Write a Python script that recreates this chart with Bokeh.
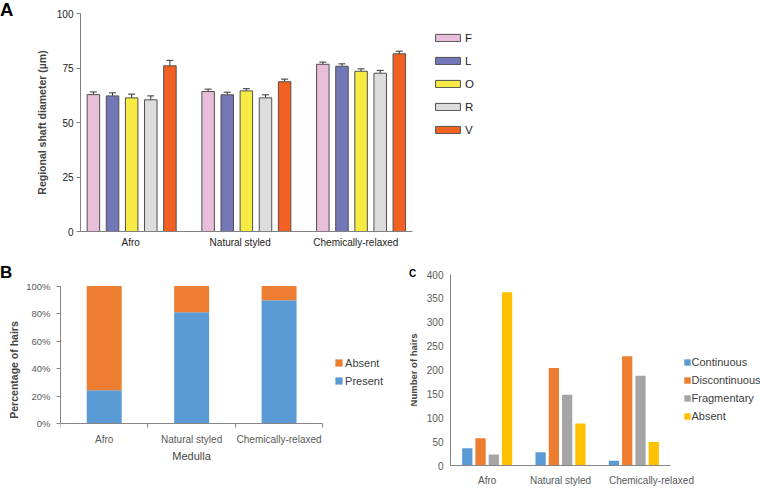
import numpy as np
from bokeh.plotting import figure
from bokeh.models import (Range1d, FixedTicker, Legend, LegendItem, Whisker, Div,
                          TeeHead, ColumnDataSource, NumeralTickFormatter)
from bokeh.layouts import column, row
from bokeh.embed import file_html
from bokeh.resources import INLINE

FONT = "Liberation Sans"

groups = ["Afro", "Natural styled", "Chemically-relaxed"]

# ---- Panel A: regional shaft diameter (mean, SEM) ----
regions = ["F", "L", "O", "R", "V"]
a_mean_F = [62.8, 64.2, 76.7]
a_mean_L = [62.2, 62.7, 75.8]
a_mean_O = [61.3, 64.5, 73.5]
a_mean_R = [60.4, 61.3, 72.6]
a_mean_V = [76.0, 68.7, 81.5]
a_err_F = [1.2, 1.1, 1.0]
a_err_L = [1.4, 1.2, 1.1]
a_err_O = [1.7, 1.0, 1.1]
a_err_R = [1.8, 1.4, 1.3]
a_err_V = [2.5, 1.2, 1.2]
a_colors = ["#E8BDDA", "#7377B7", "#F6EB43", "#DDDDDD", "#F26122"]
a_yticks = [0, 25, 50, 75, 100]

# ---- Panel B: medulla present/absent (% of hairs) ----
b_series = ["Present", "Absent"]
b_present = [0.244, 0.811, 0.897]
b_absent = [0.756, 0.189, 0.103]
b_colors = ["#5B9BD5", "#ED7D31"]
b_yticks = [0, 0.2, 0.4, 0.6, 0.8, 1.0]

# ---- Panel C: medulla type (number of hairs) ----
c_series = ["Continuous", "Discontinuous", "Fragmentary", "Absent"]
c_continuous = [36, 28, 10]
c_discontinuous = [57, 204, 229]
c_fragmentary = [23, 148, 188]
c_absent = [363, 88, 49]
c_colors = ["#5B9BD5", "#ED7D31", "#A5A5A5", "#FFC000"]
c_yticks = [0, 50, 100, 150, 200, 250, 300, 350, 400]

TICK_COL = "#595959"


def base_fig(**kw):
    p = figure(output_backend="svg", toolbar_location=None, **kw)
    p.xgrid.visible = False
    p.ygrid.visible = False
    p.outline_line_color = None
    p.background_fill_color = "white"
    p.border_fill_color = "white"
    for ax in (p.xaxis, p.yaxis):
        ax.major_label_text_font = FONT
        ax.axis_label_text_font = FONT
        ax.minor_tick_line_color = None
    return p


def letter(t, left, top, size):
    st = {"position": "absolute", "left": f"{left}px", "top": f"{top}px",
          "font-family": FONT, "font-size": size, "font-weight": "bold",
          "line-height": "1", "color": "black", "margin": "0", "padding": "0"}
    return Div(text=t, styles=st)


# ================= Panel A =================
# frame spans x 80..760; axis is bounded to the three groups
figA = base_fig(width=760, height=263,
                x_range=Range1d(-0.446, 5.482), y_range=Range1d(0, 100),
                min_border_left=80, min_border_right=0,
                min_border_top=13, min_border_bottom=32)
a_means = [a_mean_F, a_mean_L, a_mean_O, a_mean_R, a_mean_V]
a_errs = [a_err_F, a_err_L, a_err_O, a_err_R, a_err_V]
a_items = []
gx = np.arange(len(groups))
for i, reg in enumerate(regions):
    xs = gx + (i - 2) * 0.1667
    m = np.array(a_means[i])
    e = np.array(a_errs[i])
    src = ColumnDataSource(dict(x=xs, top=m, upper=m + e))
    r = figA.vbar(x="x", top="top", width=0.109, source=src,
                  fill_color=a_colors[i], line_color="#505050", line_width=1)
    w = Whisker(base="x", lower="top", upper="upper", source=src,
                line_color="#333333", line_width=1,
                upper_head=TeeHead(size=7, line_color="#333333", line_width=1),
                lower_head=None)
    figA.add_layout(w)
    a_items.append(LegendItem(label=reg, renderers=[r]))

a_label_pos = [-0.008, 0.946, 1.954]
figA.yaxis.ticker = FixedTicker(ticks=a_yticks)
figA.yaxis.major_tick_out = 4
figA.yaxis.major_tick_in = 0
figA.yaxis.major_label_standoff = 3
figA.yaxis.axis_label = "Regional shaft diameter (µm)"
figA.yaxis.axis_label_text_font_style = "bold"
figA.yaxis.axis_label_text_font_size = "10.5px"
figA.yaxis.axis_label_standoff = 6
figA.xaxis.bounds = (-0.446, 2.448)
figA.xaxis.ticker = FixedTicker(ticks=a_label_pos)
figA.xaxis.major_label_overrides = {t: g for t, g in zip(a_label_pos, groups)}
figA.xaxis.major_tick_out = 0
figA.xaxis.major_tick_in = 0
figA.xaxis.major_label_standoff = 5
for ax in (figA.xaxis, figA.yaxis):
    ax.major_label_text_font_size = "10px"
    ax.major_label_text_color = "#222222"
    ax.axis_line_color = "#808080"
    ax.major_tick_line_color = "#808080"

legA = Legend(items=a_items, location=(351.9, 95.1), orientation="vertical",
              glyph_width=31, glyph_height=9, label_height=9, spacing=11,
              padding=0, margin=0, border_line_color=None,
              background_fill_alpha=0, label_standoff=2,
              label_text_font=FONT, label_text_font_size="11.5px",
              label_text_color="#222222")
figA.add_layout(legA)

# ================= Panel B =================
# frame spans x 60..388, y 274..467; axes bounded to the data area
figB = base_fig(width=388, height=225,
                x_range=Range1d(0, 3.7516), y_range=Range1d(-0.3015, 1.084),
                min_border_left=60, min_border_right=0,
                min_border_top=11, min_border_bottom=21)
srcB = ColumnDataSource(dict(x=np.arange(len(groups)) + 0.5,
                             Present=b_present, Absent=b_absent))
rB = figB.vbar_stack(b_series, x="x", width=0.4, source=srcB,
                     fill_color=b_colors, line_color=None)
figB.yaxis.bounds = (0, 1)
figB.yaxis.ticker = FixedTicker(ticks=b_yticks)
figB.yaxis.formatter = NumeralTickFormatter(format="0%")
figB.yaxis.major_tick_out = 4
figB.yaxis.major_tick_in = 0
figB.yaxis.major_label_standoff = 6
figB.yaxis.axis_label = "Percentage of hairs"
figB.yaxis.axis_label_text_font_style = "bold"
figB.yaxis.axis_label_text_font_size = "10.5px"
figB.yaxis.axis_label_standoff = 3
figB.xaxis.fixed_location = 0
figB.xaxis.bounds = (0, 3)
figB.xaxis.ticker = FixedTicker(ticks=[0.5, 1.5, 2.5], minor_ticks=[0, 1, 2, 3])
figB.xaxis.major_label_overrides = {i + 0.5: g for i, g in enumerate(groups)}
figB.xaxis.major_tick_out = 0
figB.xaxis.major_tick_in = 0
figB.xaxis.minor_tick_line_color = "#868686"
figB.xaxis.minor_tick_out = 4
figB.xaxis.minor_tick_in = 0
figB.xaxis.major_label_standoff = 6
figB.xaxis.axis_label = "Medulla"
figB.xaxis.axis_label_text_font_style = "normal"
figB.xaxis.axis_label_text_font_size = "11px"
figB.xaxis.axis_label_standoff = 2
for ax in (figB.xaxis, figB.yaxis):
    ax.major_label_text_font_size = "10px"
    ax.major_label_text_color = TICK_COL
    ax.axis_line_color = "#868686"
    ax.major_tick_line_color = "#868686"
figB.yaxis.major_label_text_font_size = "9.5px"

legB = Legend(items=[LegendItem(label="Absent", renderers=[rB[1]]),
                     LegendItem(label="Present", renderers=[rB[0]])],
              location=(274.1, 78.5), orientation="vertical",
              glyph_width=9, glyph_height=9, label_height=9, spacing=6,
              padding=0, margin=0, border_line_color=None,
              background_fill_alpha=0, label_standoff=2,
              label_text_font=FONT, label_text_font_size="11px",
              label_text_color="#404040")
figB.add_layout(legB)

# ================= Panel C =================
# frame spans x 450..760, y 274..467
figC = base_fig(width=372, height=225,
                x_range=Range1d(0, 4.227), y_range=Range1d(0, 400),
                min_border_left=62, min_border_right=0,
                min_border_top=11, min_border_bottom=21)
c_vals = [c_continuous, c_discontinuous, c_fragmentary, c_absent]
c_items = []
for i, s in enumerate(c_series):
    xs = np.arange(len(groups)) + 0.5 + (i - 1.5) * 0.181
    r = figC.vbar(x=xs, top=c_vals[i], width=0.14,
                  fill_color=c_colors[i], line_color=None)
    c_items.append(LegendItem(label=s, renderers=[r]))
c_label_pos = [0.5, 1.5, 2.74]
figC.yaxis.ticker = FixedTicker(ticks=c_yticks)
figC.yaxis.major_tick_out = 0
figC.yaxis.major_tick_in = 0
figC.yaxis.major_label_standoff = 7
figC.yaxis.axis_label = "Number of hairs"
figC.yaxis.axis_label_text_font_style = "bold"
figC.yaxis.axis_label_text_font_size = "9.5px"
figC.yaxis.axis_label_standoff = 5
figC.xaxis.bounds = (0, 3)
figC.xaxis.ticker = FixedTicker(ticks=c_label_pos)
figC.xaxis.major_label_overrides = {t: g for t, g in zip(c_label_pos, groups)}
figC.xaxis.major_tick_out = 0
figC.xaxis.major_tick_in = 0
figC.xaxis.major_label_standoff = 9
for ax in (figC.xaxis, figC.yaxis):
    ax.major_label_text_font_size = "10px"
    ax.major_label_text_color = TICK_COL
    ax.axis_line_color = "#868686"

legC = Legend(items=c_items, location=(232.5, 43.3), orientation="vertical",
              glyph_width=8, glyph_height=8, label_height=8, spacing=6,
              padding=0, margin=0, border_line_color=None,
              background_fill_alpha=0, label_standoff=1,
              label_text_font=FONT, label_text_font_size="11px",
              label_text_color="#404040")
figC.add_layout(legC)

layout = column(figA, row(figB, figC, spacing=0), spacing=0)

# ---- panel letters ----
dA = letter("A", 0, 1, "18.5px")
dB = letter("B", 0, 264, "17px")
dC = letter("C", 409, 269, "10px")

open("out.html", "w").write(file_html([layout, dA, dB, dC], INLINE))
